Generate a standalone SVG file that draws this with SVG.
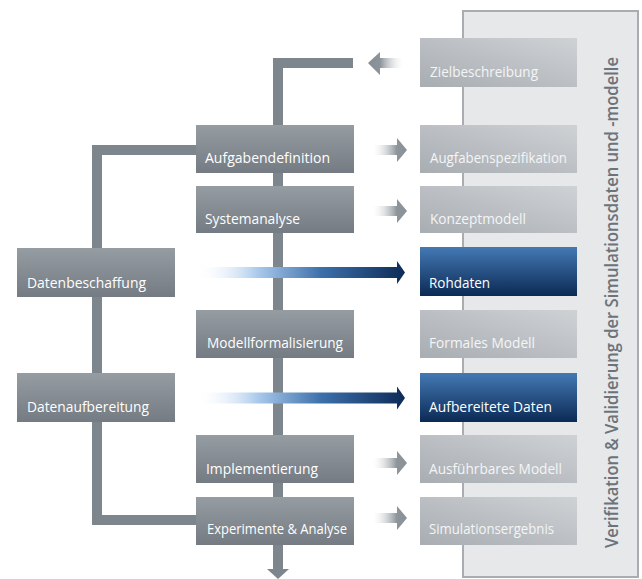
<svg xmlns="http://www.w3.org/2000/svg" width="642" height="579" viewBox="0 0 642 579">
<defs>
<linearGradient id="gMid" x1="0" y1="0" x2="0" y2="1"><stop offset="0" stop-color="#959ca2"/><stop offset="1" stop-color="#747b82"/></linearGradient>
<linearGradient id="gRight" x1="0" y1="1" x2="1" y2="0"><stop offset="0" stop-color="#a8adb2"/><stop offset="1" stop-color="#cfd2d5"/></linearGradient>
<linearGradient id="gBlue" x1="0" y1="0" x2="0" y2="1"><stop offset="0" stop-color="#4479b4"/><stop offset="1" stop-color="#0b2a55"/></linearGradient>
<linearGradient id="gArrowBlue" gradientUnits="userSpaceOnUse" x1="195" y1="0" x2="405" y2="0"><stop offset="0" stop-color="#ffffff" stop-opacity="0"/><stop offset="0.3" stop-color="#a9c9ec"/><stop offset="0.6" stop-color="#3d70ab"/><stop offset="1" stop-color="#0d2b57"/></linearGradient>
<linearGradient id="gArrowGray" gradientUnits="userSpaceOnUse" x1="373" y1="0" x2="407" y2="0"><stop offset="0" stop-color="#ffffff" stop-opacity="0.2"/><stop offset="0.7" stop-color="#8d949a"/><stop offset="1" stop-color="#8a9197"/></linearGradient>
<linearGradient id="gArrowLeft" gradientUnits="userSpaceOnUse" x1="368" y1="0" x2="403" y2="0"><stop offset="0" stop-color="#868d94"/><stop offset="0.35" stop-color="#8d949a"/><stop offset="1" stop-color="#ffffff" stop-opacity="0.2"/></linearGradient>
</defs>
<style>
.bar{fill:#7e868d}
.mid{fill:url(#gMid)}
.rgt{fill:url(#gRight)}
.blu{fill:url(#gBlue)}
.lbl{font-family:"Open Sans","Noto Sans","Liberation Sans",sans-serif;font-size:14px;fill:#ffffff}
.rl{fill:#f4f5f6}
.vt{font-family:"Open Sans","Noto Sans","Liberation Sans",sans-serif;font-size:18px;font-weight:600;fill:#6c737a}
</style>
<rect width="642" height="579" fill="#ffffff"/>
<g id="panel">
<rect x="463" y="11" width="175" height="566" fill="#e6e8ea" stroke="#a9adb1" stroke-width="2"/>
<text class="vt" transform="translate(618,548) rotate(-90)" textLength="491" lengthAdjust="spacingAndGlyphs">Verifikation &amp; Validierung der Simulationsdaten und -modelle</text>
</g>
<g id="connectors">
<rect class="bar" x="273" y="58" width="10" height="512"/>
<rect class="bar" x="273" y="58" width="80" height="10"/>
<rect class="bar" x="92" y="145" width="10" height="380"/>
<rect class="bar" x="92" y="145" width="106" height="10"/>
<rect class="bar" x="92" y="515" width="106" height="10"/>
<polygon class="bar" points="267,569 289,569 278,579"/>
<polygon fill="url(#gArrowLeft)" points="368,63 380,52 380,58 403,58 403,68 380,68 380,75"/>
<polygon fill="url(#gArrowGray)" points="373,145 397,145 397,138 407,150 397,162 397,155 373,155"/>
<polygon fill="url(#gArrowGray)" points="373,206 397,206 397,199 407,211 397,223 397,216 373,216"/>
<polygon fill="url(#gArrowGray)" points="373,458 397,458 397,451 407,463 397,475 397,468 373,468"/>
<polygon fill="url(#gArrowGray)" points="373,513 397,513 397,506 407,518 397,530 397,523 373,523"/>
<polygon fill="url(#gArrowBlue)" points="195,267 397,267 397,261 405,272.5 397,284 397,278 195,278"/>
<polygon fill="url(#gArrowBlue)" points="195,392.5 397,392.5 397,386.5 405,398 397,409.5 397,403.5 195,403.5"/>
</g>
<g id="zielbeschreibung"><rect class="rgt" x="420" y="38" width="157" height="49"/><text class="lbl rl" x="430" y="77" textLength="108" lengthAdjust="spacingAndGlyphs">Zielbeschreibung</text></g>
<g id="aufgabendefinition"><rect class="mid" x="196" y="125" width="158" height="48"/><text class="lbl" x="205" y="163" textLength="125" lengthAdjust="spacingAndGlyphs">Aufgabendefinition</text></g>
<g id="aufgabenspezifikation"><rect class="rgt" x="420" y="125" width="157" height="48"/><text class="lbl rl" x="430" y="163" textLength="137" lengthAdjust="spacingAndGlyphs">Augfabenspezifikation</text></g>
<g id="systemanalyse"><rect class="mid" x="196" y="186" width="158" height="47"/><text class="lbl" x="205" y="224" textLength="95" lengthAdjust="spacingAndGlyphs">Systemanalyse</text></g>
<g id="konzeptmodell"><rect class="rgt" x="420" y="186" width="157" height="47"/><text class="lbl rl" x="430" y="224" textLength="96" lengthAdjust="spacingAndGlyphs">Konzeptmodell</text></g>
<g id="datenbeschaffung"><rect class="mid" x="17" y="248" width="158" height="49"/><text class="lbl" x="27" y="288" textLength="119" lengthAdjust="spacingAndGlyphs">Datenbeschaffung</text></g>
<g id="rohdaten"><rect class="blu" x="420" y="247" width="157" height="49"/><text class="lbl" x="429" y="288" textLength="61" lengthAdjust="spacingAndGlyphs">Rohdaten</text></g>
<g id="modellformalisierung"><rect class="mid" x="196" y="310" width="158" height="48"/><text class="lbl" x="207" y="348" textLength="136" lengthAdjust="spacingAndGlyphs">Modellformalisierung</text></g>
<g id="formales-modell"><rect class="rgt" x="420" y="310" width="157" height="48"/><text class="lbl rl" x="429" y="348" textLength="106" lengthAdjust="spacingAndGlyphs">Formales Modell</text></g>
<g id="datenaufbereitung"><rect class="mid" x="17" y="373" width="158" height="49"/><text class="lbl" x="27" y="412" textLength="122" lengthAdjust="spacingAndGlyphs">Datenaufbereitung</text></g>
<g id="aufbereitete-daten"><rect class="blu" x="420" y="373" width="157" height="49"/><text class="lbl" x="429" y="412" textLength="123" lengthAdjust="spacingAndGlyphs">Aufbereitete Daten</text></g>
<g id="implementierung"><rect class="mid" x="196" y="435" width="158" height="48"/><text class="lbl" x="206" y="474" textLength="112" lengthAdjust="spacingAndGlyphs">Implementierung</text></g>
<g id="ausfuehrbares-modell"><rect class="rgt" x="420" y="435" width="157" height="48"/><text class="lbl rl" x="429" y="474" textLength="133" lengthAdjust="spacingAndGlyphs">Ausführbares Modell</text></g>
<g id="experimente-analyse"><rect class="mid" x="196" y="497" width="158" height="48"/><text class="lbl" x="207" y="534" textLength="140" lengthAdjust="spacingAndGlyphs">Experimente &amp; Analyse</text></g>
<g id="simulationsergebnis"><rect class="rgt" x="420" y="497" width="157" height="48"/><text class="lbl rl" x="429" y="534" textLength="125" lengthAdjust="spacingAndGlyphs">Simulationsergebnis</text></g>
</svg>
